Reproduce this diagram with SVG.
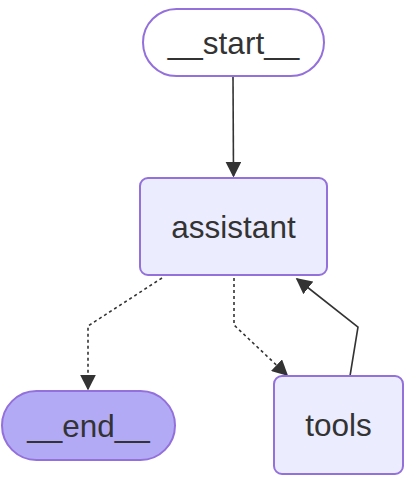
<svg xmlns="http://www.w3.org/2000/svg" width="418" height="486" viewBox="0 0 418 486">
<style>
.node rect{stroke:#9370db;stroke-width:2}
.lbl{font-family:"Liberation Sans",Arial,sans-serif;font-size:31.5px;fill:#333;text-anchor:middle;dominant-baseline:central}
.edge{fill:none;stroke:#333;stroke-width:1.6}
.dot{stroke-dasharray:3 3}
</style>
<defs>
<marker id="arrB" viewBox="0 0 10 10" refX="9" refY="5" markerWidth="16" markerHeight="16" markerUnits="userSpaceOnUse" orient="auto">
<path d="M0,0 L10,5 L0,10 z" fill="#333"/>
</marker>
</defs>
<g id="edges">
<path class="edge" d="M233,77 L233.5,176" marker-end="url(#arrB)"/>
<path class="edge dot" d="M162,278 L88,326 L88,389" marker-end="url(#arrB)"/>
<path class="edge dot" d="M234,278 L234,325 L287,375" marker-end="url(#arrB)"/>
<path class="edge" d="M350,376 L358,327 L297,279" marker-end="url(#arrB)"/>
</g>
<g id="start" class="node">
<rect x="143" y="9" width="181" height="67" rx="33.5" fill="#ffffff"/>
<text class="lbl" x="233.5" y="43">__start__</text>
</g>
<g id="assistant" class="node">
<rect x="140" y="178" width="187" height="97" rx="8" fill="#ececff"/>
<text class="lbl" x="233.5" y="227">assistant</text>
</g>
<g id="end" class="node">
<rect x="2" y="391" width="173" height="69" rx="34.5" fill="#b3aaf6"/>
<text class="lbl" x="88.5" y="426">__end__</text>
</g>
<g id="tools" class="node">
<rect x="274" y="376" width="129" height="98" rx="8" fill="#ececff"/>
<text class="lbl" x="338.5" y="425">tools</text>
</g>
</svg>
